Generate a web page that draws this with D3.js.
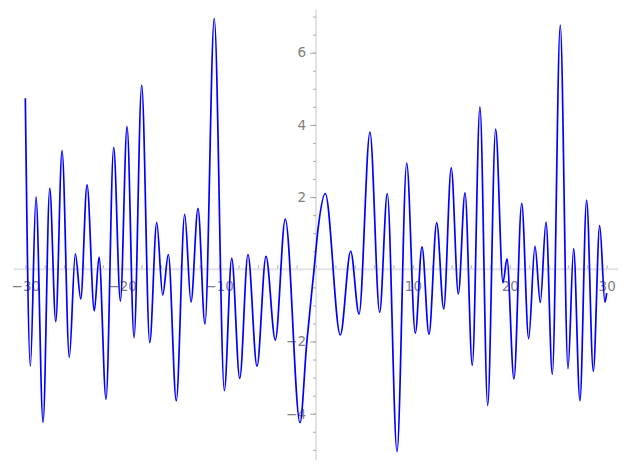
<!DOCTYPE html>
<html>
<head>
<meta charset="utf-8">
<script src="https://cdn.jsdelivr.net/npm/d3@7"></script>
<style>
  html, body { margin: 0; padding: 0; background: #fff; }
  svg { display: block; }
  text { font-family: "DejaVu Sans", sans-serif; }
</style>
</head>
<body>
<div id="container"></div>
<script>
// curve samples (turning points mostly)
const xs = [-30, -29.48, -28.9, -28.17, -27.48, -26.86, -26.21, -25.46, -24.84, -24.28,
    -23.63, -22.88, -22.39, -21.67, -20.88, -20.19, -19.5, -18.78, -17.99, -17.16,
    -16.44, -15.82, -15.24, -14.42, -13.55, -12.9, -12.18, -11.46, -10.5, -9.46,
    -8.7, -7.87, -7.02, -6.09, -5.16, -4.2, -3.17, -1.65, -0.96, -0.2,
    0.24, 0.96, 2.51, 3.58, 4.44, 5.57, 6.57, 7.36, 8.36, 9.36,
    10.25, 10.94, 11.66, 12.46, 13.18, 13.96, 14.69, 15.38, 16.13, 16.92,
    17.72, 18.54, 19.3, 19.71, 20.43, 21.23, 21.95, 22.6, 23.15, 23.74,
    24.39, 25.21, 26.01, 26.59, 27.24, 27.93, 28.62, 29.28, 29.82, 30];
const ys = [4.74, -2.68, 2.01, -4.24, 2.24, -1.45, 3.29, -2.44, 0.43, -0.82,
    2.34, -1.15, 0.34, -3.6, 3.38, -0.88, 3.95, -1.89, 5.1, -2.03,
    1.29, -0.71, 0.41, -3.64, 1.52, -0.91, 1.69, -1.52, 6.95, -3.36,
    0.3, -3.02, 0.41, -2.68, 0.36, -1.96, 1.39, -4.25, -2.05, 0,
    1.18, 2.1, -1.82, 0.5, -1.24, 3.8, -1.19, 2.1, -5.05, 2.94,
    -1.77, 0.62, -1.8, 1.29, -1.1, 2.81, -0.68, 2.12, -2.66, 4.5,
    -3.77, 3.88, -0.37, 0.29, -3.04, 1.83, -1.92, 0.64, -0.92, 1.31,
    -2.91, 6.76, -2.75, 0.57, -3.64, 1.92, -2.82, 1.21, -0.91, -0.66];

const xMajor = [-30, -20, -10, 10, 20, 30];
const xMinor = d3.range(-30, 31, 2);
const yMajor = [-4, -2, 2, 4, 6];
const yMinor = d3.range(-5, 7.01, 0.5);

const width = 627;
const height = 470;

const data = xs.map((x, i) => [x, ys[i]]);

const x = d3.scaleLinear().domain([-31.2, 31.2]).range([13.7, 618.3]);
const y = d3.scaleLinear().domain([-5.29, 7.19]).range([460.3, 9.7]);

const svg = d3.select('#container').append('svg')
    .attr('width', width)
    .attr('height', height);

const axisColor = '#e3e3e3';
const tickColor = '#9a9a9a';
const labelColor = '#808080';

// x axis along y = 0
svg.append('line')
    .attr('x1', x.range()[0]).attr('x2', x.range()[1])
    .attr('y1', y(0)).attr('y2', y(0))
    .attr('stroke', axisColor).attr('stroke-width', 2);

// y axis along x = 0
svg.append('line')
    .attr('x1', x(0)).attr('x2', x(0))
    .attr('y1', y.range()[0]).attr('y2', y.range()[1])
    .attr('stroke', axisColor).attr('stroke-width', 2);

const xAxis = d3.axisBottom(x).tickValues(xMinor).tickSize(3).tickFormat('');
svg.append('g')
    .attr('transform', `translate(0,${y(0) - 4})`)
    .call(xAxis)
    .call(g => g.select('.domain').remove())
    .call(g => g.selectAll('line').attr('stroke', tickColor).attr('stroke-width', 0.8));

const xLabels = d3.axisBottom(x).tickValues(xMajor).tickSize(0).tickPadding(12)
    .tickFormat(d => d < 0 ? '\u2212' + Math.abs(d) : d);
svg.append('g')
    .attr('transform', `translate(0,${y(0)})`)
    .call(xLabels)
    .call(g => g.select('.domain').remove())
    .call(g => g.selectAll('text').attr('fill', labelColor).attr('font-size', 13.5)
        .attr('font-family', '"DejaVu Sans", sans-serif'));

const yAxis = d3.axisLeft(y).tickValues(yMinor).tickSize(3).tickFormat('');
svg.append('g')
    .attr('transform', `translate(${x(0)},0)`)
    .call(yAxis)
    .call(g => g.select('.domain').remove())
    .call(g => g.selectAll('line').attr('stroke', tickColor).attr('stroke-width', 0.8));

const yLabels = d3.axisLeft(y).tickValues(yMajor).tickSize(6).tickPadding(4)
    .tickFormat(d => d < 0 ? '\u2212' + Math.abs(d) : d);
svg.append('g')
    .attr('transform', `translate(${x(0)},0)`)
    .call(yLabels)
    .call(g => g.select('.domain').remove())
    .call(g => g.selectAll('line').attr('stroke', tickColor).attr('stroke-width', 0.8))
    .call(g => g.selectAll('text').attr('fill', labelColor).attr('font-size', 13.5)
        .attr('font-family', '"DejaVu Sans", sans-serif'));

// the curve
const line = d3.line()
    .x(d => x(d[0]))
    .y(d => y(d[1]))
    .curve(d3.curveMonotoneX);

svg.append('path')
    .datum(data)
    .attr('d', line)
    .attr('fill', 'none')
    .attr('stroke', '#0000ff')
    .attr('stroke-width', 1.7);
</script>
</body>
</html>
